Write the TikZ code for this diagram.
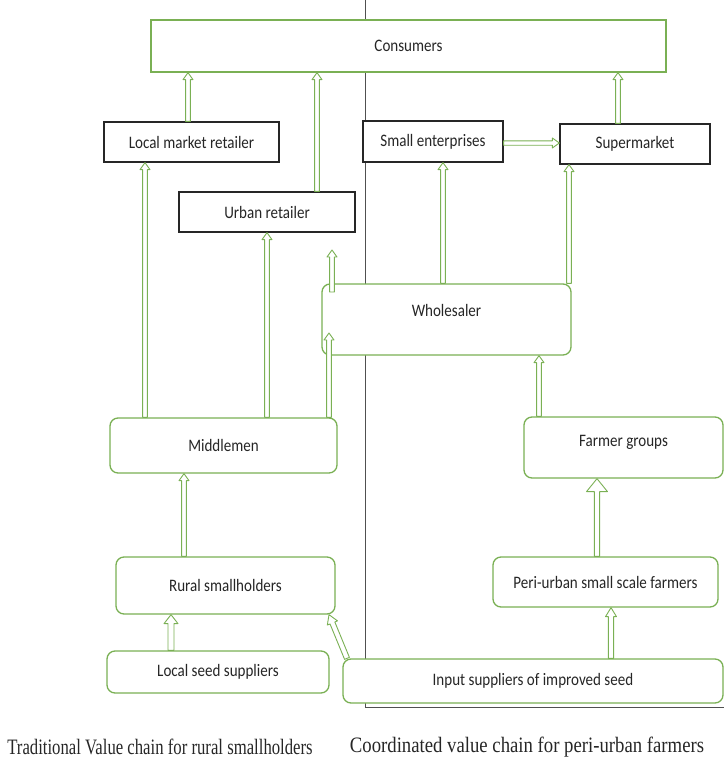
\documentclass[tikz,border=0pt]{standalone}
\usepackage{fontspec}
\usetikzlibrary{calc}
\newfontfamily\boxfont[FakeStretch=0.86]{Carlito}
\newfontfamily\capfont[FakeStretch=0.76]{Liberation Serif}
\definecolor{boxgreen}{RGB}{122,176,84}
\definecolor{linegray}{RGB}{80,80,80}
\tikzstyle{box}=[draw, fill=white, line width=1.3pt, inner sep=0pt, text=black!85, font=\boxfont\fontsize{17.5}{20}\selectfont]
\tikzstyle{gbox}=[box, draw=boxgreen]
\tikzstyle{rbox}=[gbox, rounded corners=8pt]
\tikzstyle{kbox}=[box, draw=black!85]
\tikzstyle{flow}=[draw=boxgreen, fill=white, line width=0.9pt, line join=round]
\tikzstyle{caption}=[text=black!85, font=\capfont\fontsize{22}{26}\selectfont]
% hollow block arrow: tail, tip, shaft half width, head half width, head length
\newcommand{\flowarrow}[5]{%
  \draw[flow] let \p1=(#1), \p2=(#2), \p3=($(\p2)!#5!(\p1)$) in
    ($(\p1)!#3!90:(\p2)$) -- ($(\p3)!#3!90:(\p2)$) -- ($(\p3)!#4!90:(\p2)$)
    -- (\p2) -- ($(\p3)!#4!-90:(\p2)$) -- ($(\p3)!#3!-90:(\p2)$)
    -- ($(\p1)!#3!-90:(\p2)$) -- cycle;}

\begin{document}
\begin{tikzpicture}[x=1pt, y=-1pt]
        \useasboundingbox (0,0) rectangle (724,764);
        % divider between the two chains
        \draw[linegray, line width=0.8pt] (365,0) -- (365,707) -- (724,707);
        \node[gbox, minimum width=515pt, minimum height=52pt] (C) at (408.5,46) {Consumers};
        \node[kbox, minimum width=175pt, minimum height=40pt] (LR) at (191.5,142) {Local market retailer};
        \node[kbox, minimum width=176pt, minimum height=40pt] (UR) at (267,212) {Urban retailer};
        \node[kbox, minimum width=140pt, minimum height=41pt] (SE) at (433,141.5) {Small enterprises};
        \node[kbox, minimum width=150pt, minimum height=40pt] (SM) at (635,144) {Supermarket};
        \node[rbox, minimum width=249pt, minimum height=71pt, text depth=18pt] (WS) at (446.5,319.5) {Wholesaler};
        \node[rbox, minimum width=227pt, minimum height=55pt] (MM) at (223.5,445.5) {Middlemen};
        \node[rbox, minimum width=199pt, minimum height=61pt, text depth=14pt] (FG) at (623.5,447.5) {Farmer groups};
        \node[rbox, minimum width=219pt, minimum height=57pt] (RS) at (225.5,585.5) {Rural smallholders};
        \node[rbox, minimum width=225pt, minimum height=50pt] (PF) at (605.5,582) {Peri-urban small scale farmers};
        \node[rbox, minimum width=222pt, minimum height=42pt] (LS) at (218,672) {Local seed suppliers};
        \node[rbox, minimum width=380pt, minimum height=44pt] (IS) at (533,681) {Input suppliers of improved seed};
        \coordinate (W1) at (329,333);
        \coordinate (W2) at (332,292);
        \coordinate (W3) at (332,250);
        % into consumers
        \flowarrow{LR.north -| 188,0}{C.south -| 188,0}{2.4pt}{5pt}{7pt}
        \flowarrow{UR.north -| 317,0}{C.south -| 317,0}{2.4pt}{5pt}{7pt}
        \flowarrow{SM.north -| 618,0}{C.south -| 618,0}{2.4pt}{5pt}{7pt}
        \flowarrow{SE.east |- 0,143}{SM.west |- 0,143}{2.2pt}{5pt}{7pt}
        % traditional chain
        \flowarrow{MM.north -| 145,0}{LR.south -| 145,0}{2.4pt}{5pt}{7pt}
        \flowarrow{MM.north -| UR}{UR.south}{2.4pt}{5pt}{7pt}
        \flowarrow{MM.north -| W1}{W1}{2.4pt}{5pt}{7pt}
        \flowarrow{W2}{W3}{2.4pt}{5pt}{7pt}
        \flowarrow{RS.north -| 184,0}{MM.south -| 184,0}{2.4pt}{5pt}{7pt}
        \flowarrow{LS.north -| 171,0}{RS.south -| 171,0}{3pt}{7pt}{9pt}
        \flowarrow{IS.north west -| 347,0}{RS.south east -| 329,0}{2.6pt}{5.5pt}{9pt}
        % coordinated chain
        \flowarrow{WS.north -| 443,0}{SE.south -| 443,0}{2.4pt}{5pt}{7pt}
        \flowarrow{WS.north -| 569,0}{SM.south -| 569,0}{2.4pt}{5pt}{7pt}
        \flowarrow{FG.north -| 539,0}{WS.south -| 539,0}{2.4pt}{5pt}{7pt}
        \flowarrow{PF.north -| 597,0}{FG.south -| 597,0}{2.6pt}{10.5pt}{13pt}
        \flowarrow{IS.north -| 611,0}{PF.south -| 611,0}{2.6pt}{5.5pt}{9pt}
        \node[caption] (T1) at (160,747) {Traditional Value chain for rural smallholders};
        \node[caption, xscale=1.12] (T2) at (527,747) {Coordinated value chain for peri-urban farmers};
    \end{tikzpicture}
\end{document}
